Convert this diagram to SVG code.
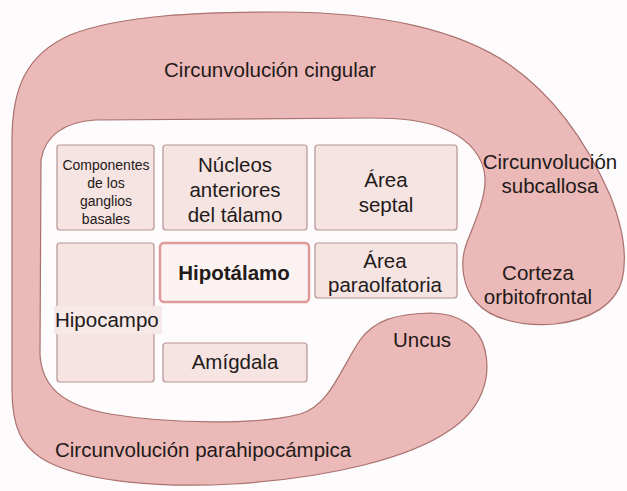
<svg xmlns="http://www.w3.org/2000/svg" width="627" height="491" viewBox="0 0 627 491">
<style>
text{font-family:"Liberation Sans",Arial,sans-serif;fill:#231a1a;text-anchor:middle}
.lg{font-size:20.5px}
.sm{font-size:14px}
.box{fill:#f6e4e2;stroke:#b49391;stroke-width:1.2}
.lobe{fill:#ebb9b7;stroke:#a9716f;stroke-width:1.2}
</style>
<rect width="627" height="491" fill="#fdfbfb"/>
<g id="sistema-limbico">
<path class="lobe" d="M 477,303 C 462,288 460,262 466,245 C 472,228 486,200 485,178 C 484,158 470,140 447,130 C 425,120 400,118 370,118 L 95,120 C 65,122 45,135 41,160 L 40,355 C 42,385 60,405 110,414 C 170,424 260,425 300,414 C 330,405 340,370 360,340 C 375,320 395,314 430,313 C 460,313 480,328 485,350 C 492,380 480,410 450,430 C 410,458 330,478 233,484 C 160,488 90,482 50,463 C 20,448 12,425 12,390 L 12,140 C 12,90 25,55 70,35 C 120,15 200,12 280,12 C 380,12 460,30 510,65 C 560,100 590,150 610,195 C 622,225 628,255 622,280 C 615,305 590,320 555,324 C 520,327 490,318 477,303 Z"/>
<text class="lg" x="270" y="77">Circunvolución cingular</text>
<text class="lg" x="550" y="169">Circunvolución</text>
<text class="lg" x="550" y="193">subcallosa</text>
<text class="lg" x="538" y="280">Corteza</text>
<text class="lg" x="538" y="304">orbitofrontal</text>
<text class="lg" x="422" y="347">Uncus</text>
<text class="lg" x="55" y="457" style="text-anchor:start">Circunvolución parahipocámpica</text>
</g>
<g id="componentes">
<rect class="box" x="57" y="145" width="97" height="85" rx="3"/>
<text class="sm" x="106" y="170">Componentes</text>
<text class="sm" x="106" y="188">de los</text>
<text class="sm" x="106" y="206">ganglios</text>
<text class="sm" x="106" y="224">basales</text>
</g>
<g id="nucleos">
<rect class="box" x="163" y="145" width="144" height="85" rx="3"/>
<text class="lg" x="235" y="172">Núcleos</text>
<text class="lg" x="235" y="197">anteriores</text>
<text class="lg" x="235" y="222">del tálamo</text>
</g>
<g id="area-septal">
<rect class="box" x="315" y="145" width="142" height="85" rx="3"/>
<text class="lg" x="386" y="187">Área</text>
<text class="lg" x="386" y="212">septal</text>
</g>
<g id="hipocampo">
<rect class="box" x="57" y="243" width="97" height="139" rx="3"/>
<rect x="54" y="306" width="108" height="28" fill="#f7e9e8"/>
<text class="lg" x="55" y="327" style="text-anchor:start">Hipocampo</text>
</g>
<g id="hipotalamo">
<rect x="160" y="243" width="149" height="59" rx="4" fill="#fcf2f2" stroke="#e09a9a" stroke-width="2.5"/>
<text class="lg" x="234" y="280" font-weight="bold">Hipotálamo</text>
</g>
<g id="area-paraolfatoria">
<rect class="box" x="315" y="243" width="142" height="55" rx="3"/>
<text class="lg" x="385" y="268">Área</text>
<text class="lg" x="385" y="292">paraolfatoria</text>
</g>
<g id="amigdala">
<rect class="box" x="163" y="343" width="144" height="39" rx="3"/>
<text class="lg" x="235" y="369">Amígdala</text>
</g>
<g id="connectors"/>
</svg>
